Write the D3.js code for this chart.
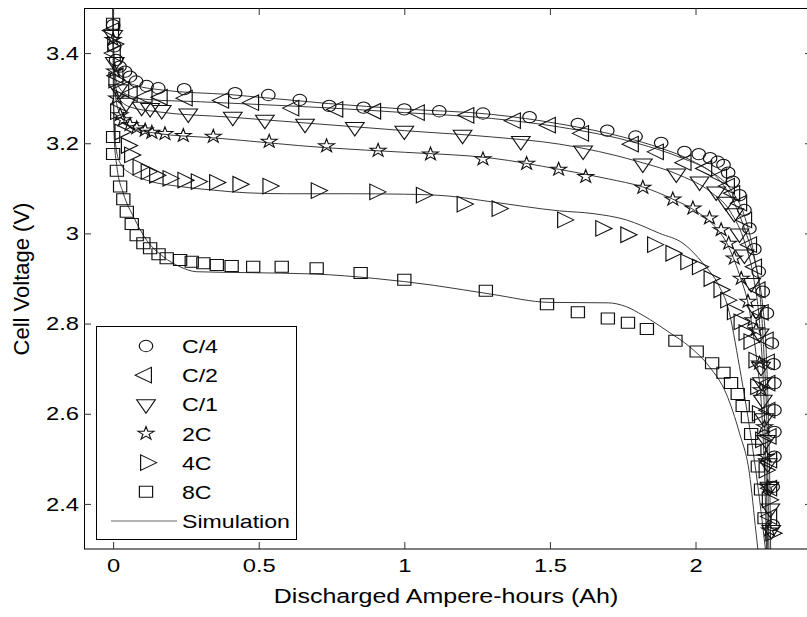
<!DOCTYPE html>
<html lang="en">
<head>
<meta charset="UTF-8">
<title>Cell voltage vs discharged capacity</title>
<script src="https://d3js.org/d3.v7.min.js"></script>
<style>
  body { margin: 0; background: #fff; }
  svg text { font-family: "Liberation Sans", Arial, sans-serif; fill: #000; }
</style>
</head>
<body>
<svg width="807" height="617"></svg>
<script>
// measured points, [Ah, V]
const c4 = [[0.000,3.462],[0.004,3.415],[0.010,3.385],[0.022,3.370],[0.041,3.359],[0.058,3.348],[0.079,3.337],[0.115,3.327],[0.155,3.322],[0.244,3.320],[0.419,3.311],[0.533,3.307],[0.641,3.296],[0.742,3.283],[0.860,3.279],[1.000,3.275],[1.120,3.271],[1.270,3.266],[1.430,3.258],[1.596,3.243],[1.697,3.228],[1.794,3.215],[1.882,3.201],[1.962,3.181],[2.011,3.176],[2.050,3.167],[2.076,3.159],[2.096,3.152],[2.112,3.135],[2.128,3.115],[2.151,3.085],[2.168,3.052],[2.185,3.011],[2.202,2.965],[2.217,2.915],[2.231,2.871],[2.245,2.823],[2.262,2.756],[2.268,2.710],[2.271,2.668],[2.271,2.608],[2.271,2.560],[2.271,2.505],[2.265,2.438],[2.265,2.353]];
const c2 = [[0.000,3.450],[0.006,3.400],[0.015,3.350],[0.035,3.320],[0.064,3.310],[0.115,3.303],[0.167,3.302],[0.253,3.300],[0.378,3.295],[0.481,3.290],[0.619,3.278],[0.770,3.275],[0.900,3.271],[1.050,3.268],[1.220,3.262],[1.380,3.250],[1.500,3.240],[1.614,3.222],[1.785,3.198],[1.871,3.181],[1.966,3.157],[2.037,3.144],[2.088,3.126],[2.115,3.105],[2.133,3.089],[2.157,3.067],[2.174,3.030],[2.191,2.975],[2.208,2.926],[2.220,2.875],[2.231,2.825],[2.248,2.764],[2.252,2.715],[2.254,2.668],[2.254,2.608],[2.258,2.550],[2.260,2.497],[2.260,2.435],[2.260,2.372]];
const c1 = [[0.000,3.440],[0.006,3.380],[0.018,3.320],[0.045,3.290],[0.098,3.281],[0.127,3.278],[0.167,3.274],[0.258,3.266],[0.411,3.259],[0.521,3.252],[0.659,3.243],[0.830,3.236],[1.000,3.228],[1.200,3.219],[1.400,3.205],[1.614,3.184],[1.819,3.155],[1.934,3.133],[2.014,3.115],[2.071,3.093],[2.105,3.070],[2.133,3.045],[2.151,3.000],[2.168,2.953],[2.191,2.890],[2.208,2.830],[2.220,2.778],[2.225,2.704],[2.228,2.670],[2.231,2.631],[2.236,2.590],[2.242,2.542],[2.248,2.490],[2.254,2.438],[2.257,2.390],[2.260,2.342]];
const c2x = [[0.000,3.430],[0.005,3.360],[0.012,3.300],[0.024,3.263],[0.035,3.252],[0.058,3.241],[0.081,3.234],[0.110,3.229],[0.133,3.224],[0.178,3.221],[0.241,3.217],[0.344,3.215],[0.536,3.204],[0.733,3.194],[0.910,3.184],[1.090,3.176],[1.270,3.165],[1.420,3.155],[1.530,3.142],[1.623,3.126],[1.819,3.102],[1.922,3.076],[1.991,3.056],[2.048,3.034],[2.088,3.008],[2.114,2.978],[2.133,2.945],[2.157,2.900],[2.180,2.849],[2.197,2.808],[2.208,2.786],[2.220,2.712],[2.225,2.653],[2.237,2.571],[2.242,2.505],[2.248,2.438],[2.254,2.342]];
const c4x = [[0.000,3.420],[0.004,3.340],[0.010,3.270],[0.025,3.225],[0.047,3.195],[0.058,3.174],[0.087,3.147],[0.115,3.137],[0.144,3.129],[0.190,3.122],[0.241,3.118],[0.287,3.115],[0.350,3.113],[0.430,3.109],[0.533,3.105],[0.699,3.095],[0.900,3.092],[1.060,3.085],[1.200,3.065],[1.320,3.055],[1.545,3.030],[1.676,3.011],[1.762,2.997],[1.854,2.975],[1.917,2.956],[1.968,2.937],[2.008,2.926],[2.048,2.900],[2.082,2.875],[2.105,2.852],[2.128,2.826],[2.151,2.804],[2.168,2.780],[2.185,2.760],[2.202,2.719],[2.208,2.660],[2.214,2.601],[2.225,2.542],[2.237,2.475],[2.248,2.409],[2.260,2.335]];
const c8x = [[0.000,3.465],[0.000,3.214],[0.000,3.176],[0.013,3.139],[0.024,3.104],[0.035,3.076],[0.047,3.048],[0.064,3.021],[0.081,2.996],[0.104,2.978],[0.127,2.967],[0.156,2.954],[0.184,2.945],[0.230,2.941],[0.270,2.937],[0.310,2.934],[0.356,2.930],[0.407,2.928],[0.481,2.926],[0.579,2.926],[0.699,2.923],[0.850,2.912],[1.000,2.897],[1.280,2.873],[1.490,2.843],[1.596,2.825],[1.699,2.811],[1.768,2.802],[1.833,2.788],[1.931,2.762],[2.004,2.738],[2.057,2.712],[2.096,2.691],[2.122,2.668],[2.145,2.644],[2.162,2.617],[2.180,2.592],[2.191,2.555],[2.202,2.520],[2.214,2.483],[2.225,2.432],[2.237,2.368]];

// simulated curves, [Ah, V]
const simC4 = [[0,3.5],[0.001,3.43],[0.004,3.39],[0.01,3.365],[0.03,3.343],[0.08,3.328],[0.17,3.318],[0.4,3.308],[0.74,3.288],[1.0,3.276],[1.3,3.264],[1.533,3.243],[1.762,3.212],[1.877,3.19],[1.991,3.16],[2.071,3.126],[2.128,3.074],[2.174,3.0],[2.208,2.926],[2.231,2.837],[2.242,2.75],[2.25,2.6],[2.255,2.45],[2.258,2.3]];
const simC2 = [[0,3.5],[0.001,3.42],[0.004,3.37],[0.015,3.33],[0.05,3.307],[0.12,3.297],[0.3,3.292],[0.6,3.283],[0.75,3.278],[1.0,3.268],[1.3,3.255],[1.533,3.236],[1.8,3.2],[1.95,3.168],[2.05,3.138],[2.12,3.098],[2.17,3.035],[2.2,2.955],[2.222,2.86],[2.236,2.72],[2.246,2.55],[2.252,2.3]];
const simC1 = [[0,3.5],[0.001,3.41],[0.004,3.35],[0.02,3.3],[0.06,3.28],[0.15,3.27],[0.4,3.258],[0.7,3.243],[1.0,3.228],[1.3,3.214],[1.533,3.198],[1.8,3.16],[1.95,3.128],[2.05,3.093],[2.12,3.048],[2.17,2.978],[2.2,2.9],[2.22,2.8],[2.234,2.65],[2.243,2.45],[2.248,2.3]];
const sim2C = [[0,3.5],[0.001,3.4],[0.004,3.33],[0.02,3.27],[0.06,3.236],[0.15,3.222],[0.344,3.212],[0.733,3.19],[1.0,3.18],[1.3,3.167],[1.533,3.142],[1.7,3.121],[1.819,3.103],[1.922,3.076],[2.0,3.05],[2.06,3.02],[2.11,2.975],[2.15,2.91],[2.185,2.83],[2.21,2.72],[2.228,2.6],[2.238,2.45],[2.244,2.3]];
const sim4C = [[0,3.5],[0.001,3.35],[0.004,3.24],[0.01,3.19],[0.025,3.155],[0.06,3.133],[0.115,3.118],[0.23,3.104],[0.344,3.096],[0.46,3.09],[0.6,3.088],[0.8,3.088],[1.0,3.087],[1.15,3.083],[1.3,3.07],[1.533,3.05],[1.648,3.044],[1.762,3.03],[1.877,3.0],[1.957,2.978],[2.025,2.934],[2.082,2.882],[2.111,2.837],[2.151,2.704],[2.197,2.52],[2.22,2.409],[2.24,2.3]];
const sim8C = [[0,3.5],[0.001,3.3],[0.004,3.21],[0.013,3.148],[0.035,3.089],[0.07,3.037],[0.115,2.985],[0.173,2.948],[0.23,2.926],[0.287,2.915],[0.46,2.913],[0.69,2.91],[0.9,2.9],[1.1,2.885],[1.3,2.865],[1.5,2.847],[1.7,2.846],[1.76,2.838],[1.82,2.818],[1.911,2.78],[1.979,2.749],[2.048,2.704],[2.105,2.645],[2.151,2.557],[2.185,2.468],[2.208,2.335],[2.214,2.3]];

const xTicks = [0, 0.5, 1, 1.5, 2];
const yTicks = [2.4, 2.6, 2.8, 3.0, 3.2, 3.4];
const legendLabels = ["C/4", "C/2", "C/1", "2C", "4C", "8C", "Simulation"];

const svg = d3.select("svg");
const stretch = "scale(1.25,1)";   // the picture is wider than it is tall

const x = d3.scaleLinear().domain([-0.1, 2.4]).range([84, 812]);
const y = d3.scaleLinear().domain([2.3, 3.5]).range([549, 8]);

svg.append("clipPath").attr("id", "plot")
    .append("rect").attr("x", 84).attr("y", 8).attr("width", 728).attr("height", 541);

// simulation lines
const line = d3.line().x(d => x(d[0])).y(d => y(d[1])).curve(d3.curveMonotoneX);
const sims = [simC4, simC2, simC1, sim2C, sim4C, sim8C];
svg.append("g").attr("clip-path", "url(#plot)")
    .selectAll("path").data(sims).join("path")
    .attr("d", line)
    .attr("fill", "none")
    .attr("stroke", "#3a3a3a")
    .attr("stroke-width", 1);

// markers
const markers = [
    { data: c4,  type: d3.symbolCircle,   size: 100, rot: 0 },
    { data: c2,  type: d3.symbolTriangle, size: 105, rot: -90 },
    { data: c1,  type: d3.symbolTriangle, size: 105, rot: 180 },
    { data: c2x, type: d3.symbolStar,     size: 55,  rot: 0 },
    { data: c4x, type: d3.symbolTriangle, size: 105, rot: 90 },
    { data: c8x, type: d3.symbolSquare,   size: 121, rot: 0 }
];
function markerPath(m) { return d3.symbol().type(m.type).size(m.size)(); }

const mg = svg.append("g").attr("clip-path", "url(#plot)");
markers.forEach(m => {
    mg.append("g").selectAll("path").data(m.data).join("path")
        .attr("d", markerPath(m))
        .attr("transform", d => `translate(${x(d[0])},${y(d[1])}) scale(1.2,1) rotate(${m.rot})`)
        .attr("fill", "none")
        .attr("stroke", "#111")
        .attr("stroke-width", 1);
});

// axes box and ticks
svg.append("rect").attr("x", 84.5).attr("y", 8.5).attr("width", 727).attr("height", 540.5)
    .attr("fill", "none").attr("stroke", "#000");

svg.append("g").attr("transform", "translate(0,549)")
    .call(d3.axisBottom(x).tickValues(xTicks).tickSize(-7).tickPadding(10).tickFormat(d3.format("")));
svg.append("g").attr("transform", "translate(0,8)")
    .call(d3.axisTop(x).tickValues(xTicks).tickSize(-7).tickFormat(""));
svg.append("g").attr("transform", "translate(84,0)")
    .call(d3.axisLeft(y).tickValues(yTicks).tickSize(-7).tickPadding(4).tickFormat(d3.format("")));
svg.append("g").attr("transform", "translate(812,0)")
    .call(d3.axisRight(y).tickValues(yTicks).tickSize(-7).tickFormat(""));

svg.selectAll(".domain").remove();
svg.selectAll(".tick line").attr("stroke", "#333");
svg.selectAll(".tick text").attr("fill", "#000").attr("font-size", 19)
    .attr("font-family", "Liberation Sans, Arial, sans-serif")
    .attr("transform", stretch);

// axis titles
svg.append("text")
    .attr("transform", `translate(446,603) ${stretch}`)
    .attr("text-anchor", "middle").attr("font-size", 20)
    .text("Discharged Ampere-hours (Ah)");
svg.append("text")
    .attr("transform", "translate(29,279) rotate(-90)")
    .attr("text-anchor", "middle").attr("font-size", 22)
    .text("Cell Voltage (V)");

// legend
const lg = svg.append("g");
lg.append("rect").attr("x", 96.5).attr("y", 326.5).attr("width", 200).attr("height", 213)
    .attr("fill", "#fff").attr("stroke", "#000");
const rowY = d3.scalePoint().domain(legendLabels).range([346, 521]);
markers.forEach((m, i) => {
    lg.append("path")
        .attr("d", markerPath(m))
        .attr("transform", `translate(146,${rowY(legendLabels[i])}) scale(1.2,1) rotate(${m.rot})`)
        .attr("fill", "none").attr("stroke", "#111");
});
lg.append("line")
    .attr("x1", 111).attr("x2", 177)
    .attr("y1", rowY("Simulation")).attr("y2", rowY("Simulation"))
    .attr("stroke", "#666");
lg.selectAll("text").data(legendLabels).join("text")
    .attr("transform", d => `translate(182,${rowY(d) + 7}) ${stretch}`)
    .attr("font-size", 18.5)
    .text(d => d);
</script>
</body>
</html>
